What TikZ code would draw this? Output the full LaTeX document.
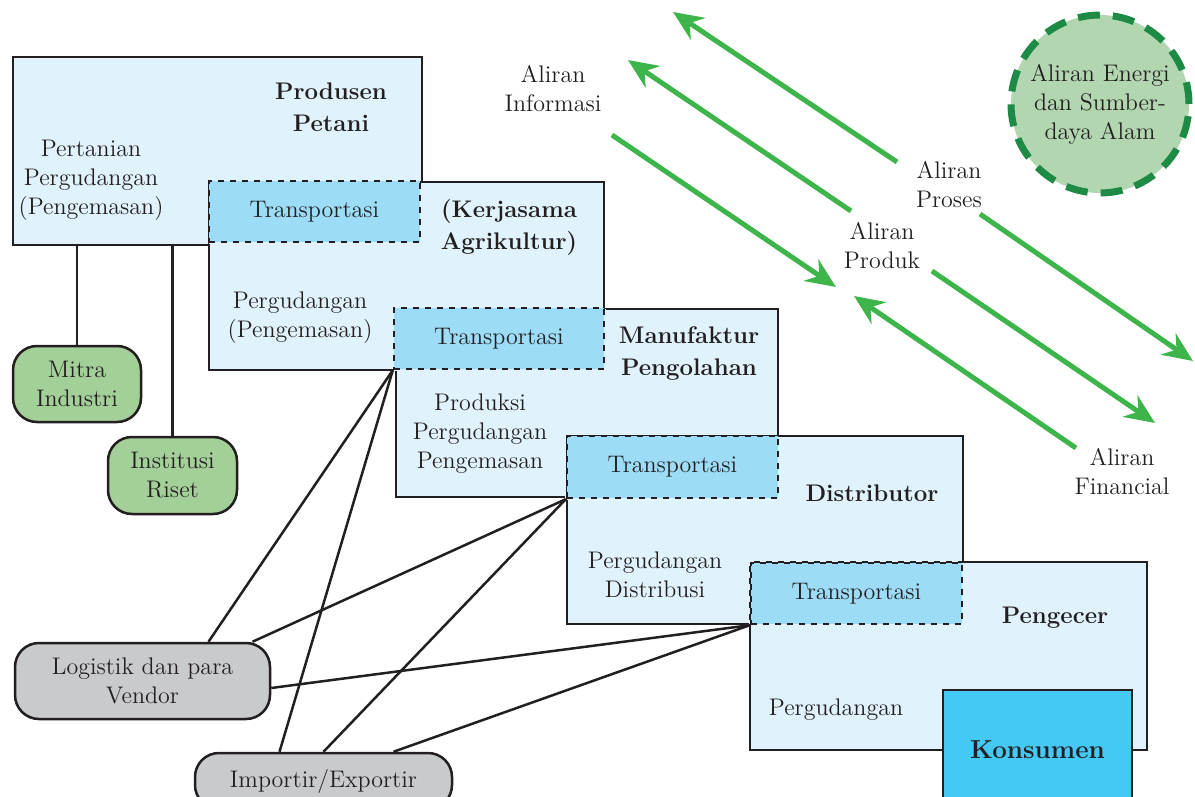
\documentclass[tikz,border=0pt]{standalone}
\usepackage{amssymb}
\usepackage{amsmath}
\usepackage{tikz}
\usetikzlibrary{arrows.meta}

\definecolor{ink}{HTML}{231F20}
\definecolor{stagefill}{HTML}{E0F2FC}
\definecolor{transfill}{HTML}{9DDCF7}
\definecolor{konsfill}{HTML}{44C8F4}
\definecolor{partnerfill}{HTML}{A3CF98}
\definecolor{supportfill}{HTML}{C9CACC}
\definecolor{flowgreen}{HTML}{3DB54A}
\definecolor{alamfill}{HTML}{B1D6B0}
\definecolor{alamline}{HTML}{1D8A46}

\tikzset{
    stage/.style={draw=ink, fill=stagefill, line width=1.25pt, inner sep=0pt},
    transport/.style={preaction={draw=stagefill, line width=1.8pt}, draw=ink, fill=transfill,
        dashed, line width=1.2pt, inner sep=0pt, minimum height=30.5pt, minimum width=105.5pt,
        text=ink, font=\fontsize{12}{14.5}\selectfont},
    partner/.style={draw=ink, fill=partnerfill, line width=1.25pt, rounded corners=12pt,
        align=center, text=ink, font=\fontsize{12}{14.5}\selectfont, inner sep=0pt},
    support/.style={partner, fill=supportfill},
    title/.style={align=center, text=ink, font=\fontsize{12}{16}\selectfont\bfseries},
    task/.style={align=center, text=ink, font=\fontsize{12}{14.5}\selectfont},
    flow/.style={draw=flowgreen, line width=2.5pt, -{Stealth[length=15pt,width=13pt,inset=5pt]}}
}

\begin{document}
\begin{tikzpicture}[x=0.5pt,y=-0.5pt,thick]
    \useasboundingbox (0,0) rectangle (1195,797);
    \clip (0,0) rectangle (1195,797);

    % links to the supporting parties
    \node[partner, minimum width=64pt, minimum height=38pt] (mitra) at (77,384) {Mitra\\Industri};
    \node[partner, minimum width=64.5pt, minimum height=38.5pt] (riset) at (172.5,475.5) {Institusi\\Riset};
    \node[support, minimum width=127.5pt, minimum height=38pt] (logistik) at (142.5,681) {Logistik dan para\\Vendor};
    \node[support, minimum width=128.5pt, minimum height=28pt] (importir) at (323.5,781) {Importir/Exportir};

    % stages of the chain
    \node[stage, minimum width=204.5pt, minimum height=94pt] (petani) at (217.5,151) {};
    \node[stage, minimum width=197.5pt, minimum height=94pt] (koperasi) at (406.5,276) {};
    \node[stage, minimum width=191pt, minimum height=94pt] (pabrik) at (587,403) {};
    \node[stage, minimum width=198pt, minimum height=94pt] (distributor) at (765,530) {};
    \node[stage, minimum width=198.5pt, minimum height=94pt] (pengecer) at (948.5,656) {};
    \node[stage, fill=konsfill, minimum width=94.5pt, minimum height=60pt,
        font=\fontsize{13}{16}\selectfont\bfseries, text=ink] (konsumen) at (1037.5,750) {Konsumen};

    \node[transport] (trans1) at (314.5,211.5) {Transportasi};
    \node[transport, minimum width=105pt] (trans2) at (499,338.5) {Transportasi};
    \node[transport, minimum height=31pt] (trans3) at (672.5,467) {Transportasi};
    \node[transport] (trans4) at (856.5,593.5) {Transportasi};

    \draw[ink, line width=1.25pt] (mitra.north) -- (mitra.north |- petani.south);
    \draw[ink, line width=1.25pt] (riset.north) -- (riset.north |- petani.south);

    \draw[ink, line width=1.25pt] ([xshift=33pt]logistik.north) -- (trans2.south west);
    \draw[ink, line width=1.25pt] ([xshift=55pt]logistik.north) -- (trans3.south west);
    \draw[ink, line width=1.25pt] ([yshift=-3.5pt]logistik.east) -- (trans4.south west);
    \draw[ink, line width=1.25pt] ([xshift=-22pt]importir.north) -- (trans2.south west);
    \draw[ink, line width=1.25pt] (importir.north) -- (trans3.south west);
    \draw[ink, line width=1.25pt] ([xshift=35pt]importir.north) -- (trans4.south west);

    % labels inside the stages
    \node[title] (petaniname) at (331,107) {Produsen\\Petani};
    \node[task] (petanitask) at (91,180) {Pertanian\\Pergudangan\\(Pengemasan)};
    \node[title] (koperasiname) at (509,228) {(Kerjasama\\Agrikultur)};
    \node[task] (koperasitask) at (300,318) {Pergudangan\\(Pengemasan)};
    \node[title] (pabrikname) at (689,354) {Manufaktur\\Pengolahan};
    \node[task] (pabriktask) at (480,434) {Produksi\\Pergudangan\\Pengemasan};
    \node[title] (distname) at (872,493) {Distributor};
    \node[task] (disttask) at (655,575) {Pergudangan\\Distribusi};
    \node[title] (ecername) at (1055,618) {Pengecer};
    \node[task] (ecertask) at (836,710) {Pergudangan};

    % flows
    \coordinate (prosesA) at (897,162);   \coordinate (prosesB) at (673,12);
    \coordinate (produkA) at (851,211);   \coordinate (produkB) at (628,60);
    \coordinate (infoA) at (612,135);     \coordinate (infoB) at (836,287);
    \coordinate (finA) at (1076,448);     \coordinate (finB) at (854,296);
    \coordinate (produkC) at (932,271);   \coordinate (produkD) at (1155,423);
    \coordinate (prosesC) at (980,214);   \coordinate (prosesD) at (1193,361);

    \draw[flow] (prosesA) -- (prosesB);
    \draw[flow] (produkA) -- (produkB);
    \draw[flow] (infoA) -- (infoB);
    \draw[flow] (finA) -- (finB);
    \draw[flow] (produkC) -- (produkD);
    \draw[flow] (prosesC) -- (prosesD);

    \node[task] (infolabel) at (553,89) {Aliran\\Informasi};
    \node[task] (proseslabel) at (949,185) {Aliran\\Proses};
    \node[task] (produklabel) at (882,246) {Aliran\\Produk};
    \node[task] (finlabel) at (1122,472) {Aliran\\Financial};

    \node[circle, fill=alamfill, draw=alamline, line width=3.5pt, dash pattern=on 11pt off 6.5pt,
        minimum size=89pt, inner sep=0pt, task] (alam) at (1100,104) {Aliran Energi\\dan Sumber-\\daya Alam};
\end{tikzpicture}
\end{document}
